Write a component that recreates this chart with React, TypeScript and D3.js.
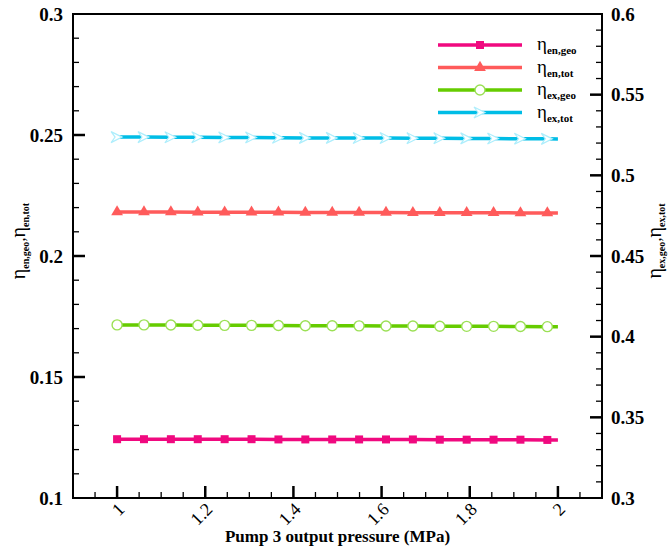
import React, { useEffect, useRef } from 'react';
import * as d3 from 'd3';

// pump 3 output pressure (MPa), markers on all but the last point
const pressure = [1.0, 1.061, 1.122, 1.183, 1.244, 1.305, 1.366, 1.427, 1.488, 1.549, 1.61, 1.671, 1.732, 1.793, 1.854, 1.915, 1.976, 2.0];

// left axis series
const enGeo = [0.1243, 0.1243, 0.1243, 0.1243, 0.1243, 0.1243, 0.1242, 0.1242, 0.1242, 0.1242, 0.1242, 0.1242, 0.1241, 0.1241, 0.1241, 0.1241, 0.124, 0.124];
const enTot = [0.2182, 0.2182, 0.2182, 0.2181, 0.2181, 0.2181, 0.2181, 0.218, 0.218, 0.218, 0.218, 0.2179, 0.2179, 0.2179, 0.2179, 0.2178, 0.2178, 0.2178];
// right axis series
const exGeo = [0.4073, 0.4073, 0.4072, 0.4071, 0.407, 0.407, 0.4069, 0.4068, 0.4068, 0.4067, 0.4066, 0.4066, 0.4065, 0.4064, 0.4064, 0.4063, 0.4062, 0.4062];
const exTot = [0.5237, 0.5237, 0.5236, 0.5236, 0.5235, 0.5235, 0.5233, 0.5232, 0.5232, 0.5231, 0.5231, 0.523, 0.523, 0.5229, 0.5228, 0.5227, 0.5226, 0.5225];

const xTicks = [1, 1.2, 1.4, 1.6, 1.8, 2];
const leftTicks = [0.1, 0.15, 0.2, 0.25, 0.3];
const rightTicks = [0.3, 0.35, 0.4, 0.45, 0.5, 0.55, 0.6];

const series = [
  { sub: 'en,geo', values: enGeo, axis: 'left', color: '#f0097f', marker: 'square' },
  { sub: 'en,tot', values: enTot, axis: 'left', color: '#ff5b5b', marker: 'triangle' },
  { sub: 'ex,geo', values: exGeo, axis: 'right', color: '#66cc00', marker: 'circle' },
  { sub: 'ex,tot', values: exTot, axis: 'right', color: '#00bde6', marker: 'arrow' },
];

const FONT = 'Liberation Serif, serif';

function App() {
  const ref = useRef<SVGSVGElement>(null);

  useEffect(() => {
    const width = 671, height = 551;
    const margin = { top: 14, left: 73, right: 69, bottom: 53 };
    const svg = d3.select(ref.current).attr('width', width).attr('height', height);
    svg.selectAll('*').remove();

    const x = d3.scaleLinear().domain([0.9, 2.1]).range([margin.left, width - margin.right]);
    const yL = d3.scaleLinear().domain([0.1, 0.3]).range([height - margin.bottom, margin.top]);
    const yR = d3.scaleLinear().domain([0.3, 0.6]).range([height - margin.bottom, margin.top]);
    const x0 = margin.left, x1 = width - margin.right, y0 = height - margin.bottom, y1 = margin.top;

    const axes = svg.append('g').attr('stroke', '#000');

    // bottom ticks (inward)
    d3.range(0.95, 2.1, 0.05).forEach(v => {
      const major = Math.abs(v * 5 - Math.round(v * 5)) < 1e-6;
      axes.append('line').attr('x1', x(v)).attr('x2', x(v)).attr('y1', y0).attr('y2', y0 - (major ? 12 : 6))
        .attr('stroke-width', major ? 2.5 : 1.3);
    });
    // left ticks
    d3.range(0.11, 0.3, 0.01).forEach(v => {
      const major = Math.abs(v * 20 - Math.round(v * 20)) < 1e-6;
      axes.append('line').attr('x1', x0).attr('x2', x0 + (major ? 12 : 6)).attr('y1', yL(v)).attr('y2', yL(v))
        .attr('stroke-width', major ? 2.5 : 1.3);
    });
    // right ticks
    d3.range(0.31, 0.6, 0.01).forEach(v => {
      const major = Math.abs(v * 20 - Math.round(v * 20)) < 1e-6;
      axes.append('line').attr('x1', x1).attr('x2', x1 - (major ? 12 : 6)).attr('y1', yR(v)).attr('y2', yR(v))
        .attr('stroke-width', major ? 2.5 : 1.3);
    });
    svg.append('rect').attr('x', x0).attr('y', y1).attr('width', x1 - x0).attr('height', y0 - y1)
      .attr('fill', 'none').attr('stroke', '#000').attr('stroke-width', 2);

    // tick labels
    svg.selectAll('.lt').data(leftTicks).join('text').attr('class', 'lt')
      .attr('x', x0 - 10).attr('y', d => yL(d)).attr('dy', '0.35em').attr('text-anchor', 'end')
      .attr('font-family', FONT).attr('font-weight', 'bold').attr('font-size', 19).text(d => String(d));
    svg.selectAll('.rt').data(rightTicks).join('text').attr('class', 'rt')
      .attr('x', x1 + 9).attr('y', d => yR(d)).attr('dy', '0.35em').attr('text-anchor', 'start')
      .attr('font-family', FONT).attr('font-weight', 'bold').attr('font-size', 19).text(d => String(d));
    svg.selectAll('.xt').data(xTicks).join('text').attr('class', 'xt')
      .attr('transform', d => `translate(${x(d) + 4}, ${y0 + 8}) rotate(-45)`)
      .attr('text-anchor', 'end').attr('dy', '0.35em')
      .attr('font-family', FONT).attr('font-size', 18).text(d => String(d));

    // axis titles
    svg.append('text').attr('x', (x0 + x1) / 2).attr('y', 542).attr('text-anchor', 'middle')
      .attr('font-family', FONT).attr('font-weight', 'bold').attr('font-size', 17)
      .text('Pump 3 output pressure (MPa)');

    const etaLabel = (g: any, parts: string[]) => {
      parts.forEach((sub, i) => {
        if (i > 0) g.append('tspan').attr('font-size', 16).text(',');
        g.append('tspan').attr('font-size', 20).text('η');
        g.append('tspan').attr('font-size', 10).attr('font-weight', 'bold').attr('dy', 4).text(sub);
        g.append('tspan').attr('font-size', 1).attr('dy', -4).text(' ');
      });
    };
    etaLabel(svg.append('text').attr('transform', 'translate(25, 241) rotate(-90)').attr('text-anchor', 'middle')
      .attr('font-family', FONT), ['en,geo', 'en,tot']);
    etaLabel(svg.append('text').attr('transform', 'translate(661, 241) rotate(-90)').attr('text-anchor', 'middle')
      .attr('font-family', FONT), ['ex,geo', 'ex,tot']);

    const drawMarker = (g: any, type: string, color: string, cx: number, cy: number) => {
      if (type === 'square') {
        g.append('rect').attr('x', cx - 4).attr('y', cy - 4).attr('width', 8).attr('height', 8).attr('fill', color);
      } else if (type === 'triangle') {
        g.append('path').attr('d', d3.symbol(d3.symbolTriangle, 60)()).attr('transform', `translate(${cx},${cy})`).attr('fill', color);
      } else if (type === 'circle') {
        g.append('circle').attr('cx', cx).attr('cy', cy).attr('r', 5).attr('fill', '#fff').attr('stroke', '#9be055').attr('stroke-width', 1.4);
      } else {
        g.append('path').attr('d', 'M-6,-5.5L5,0L-6,5.5L-2,0Z').attr('transform', `translate(${cx},${cy})`)
          .attr('fill', '#fff').attr('stroke', '#aeeefc').attr('stroke-width', 1.2);
      }
    };

    // series lines and markers
    series.forEach(s => {
      const y = s.axis === 'left' ? yL : yR;
      const line = d3.line<number>().x((_, i) => x(pressure[i])).y(d => y(d));
      svg.append('path').attr('d', line(s.values)).attr('fill', 'none').attr('stroke', s.color).attr('stroke-width', 3.5);
      const g = svg.append('g');
      s.values.slice(0, -1).forEach((v, i) => drawMarker(g, s.marker, s.color, x(pressure[i]), y(v)));
    });

    // legend
    series.forEach((s, i) => {
      const ly = 45 + i * 22.5;
      svg.append('line').attr('x1', 438).attr('x2', 522).attr('y1', ly).attr('y2', ly).attr('stroke', s.color).attr('stroke-width', 3.5);
      drawMarker(svg.append('g'), s.marker, s.color, 480, ly);
      const t = svg.append('text').attr('x', 537).attr('y', ly + 5).attr('font-family', FONT);
      t.append('tspan').attr('font-size', 19).text('η');
      t.append('tspan').attr('font-size', 11).attr('font-weight', 'bold').attr('dy', 4).text(s.sub);
    });
  }, []);

  return (
    <div style={{ position: 'absolute', left: 0, top: 0, background: '#fff' }}>
      <svg ref={ref}></svg>
    </div>
  );
}

export default App;
